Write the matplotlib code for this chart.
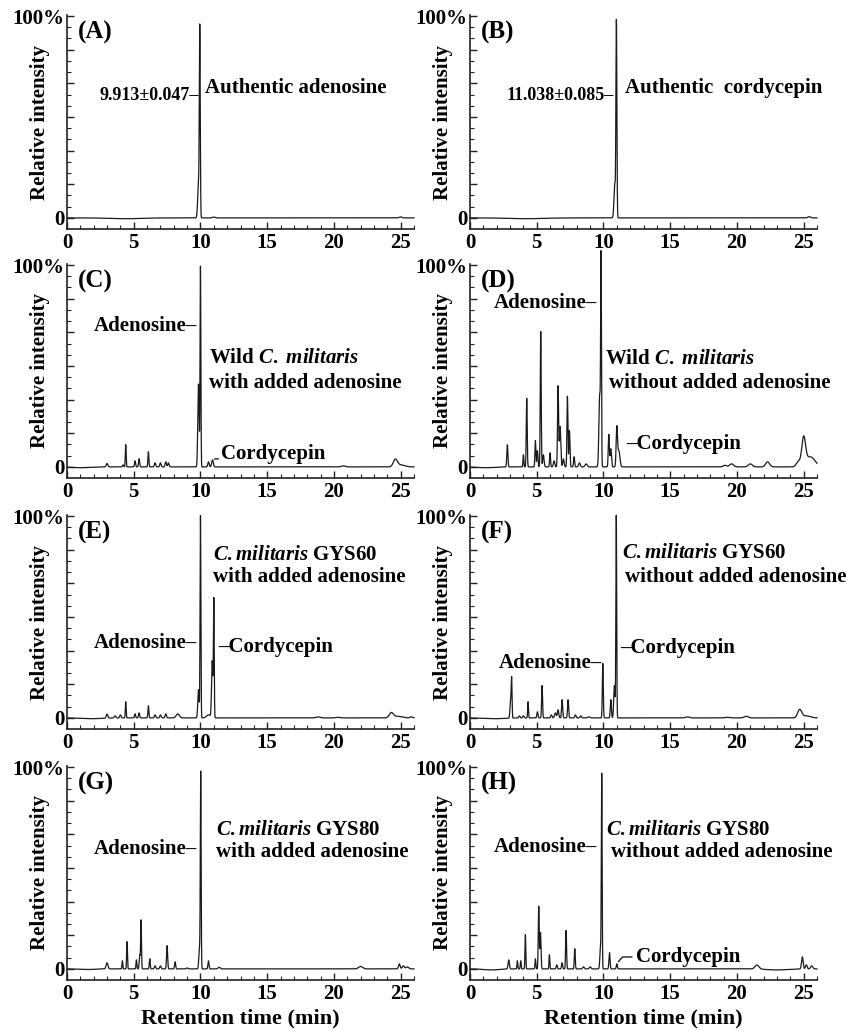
import numpy as np
import matplotlib
matplotlib.use("Agg")
import matplotlib.pyplot as plt

plt.rcParams['font.family'] = ['Liberation Serif', 'DejaVu Serif']
plt.rcParams['font.weight'] = 'bold'
plt.rcParams['mathtext.fontset'] = 'custom'
plt.rcParams['mathtext.rm'] = 'Liberation Serif:bold'
plt.rcParams['mathtext.it'] = 'Liberation Serif:bold:italic'
plt.rcParams['mathtext.bf'] = 'Liberation Serif:bold'

# ---- peak tables: (retention time min, height %, width min)
PEAKS_A = [(4.4, -0.4, 1.2), (9.85, 16, 0.06), (9.95, 92, 0.035), (11.0, 0.4, 0.1), (25.0, 0.5, 0.1)]
PEAKS_B = [(4.2, -0.4, 1.3), (10.85, 17, 0.06), (10.97, 96, 0.035), (25.4, 0.6, 0.1)]
PEAKS_C = [(1.0, -0.4, 0.6), (3.0, 1.7, 0.06), (4.2, 1.0, 0.04), (4.4, 11, 0.03), (5.1, 3, 0.04),
           (5.4, 4, 0.04), (6.1, 7.5, 0.035), (6.6, 2, 0.05), (7.0, 2, 0.05), (7.4, 2.5, 0.05),
           (7.6, 2, 0.05), (9.85, 41, 0.05), (10.0, 99, 0.03), (10.6, 2.5, 0.05), (10.9, 3.5, 0.06),
           (20.7, 0.5, 0.15), (24.6, 3.5, 0.15), (25.0, 1, 0.3)]
PEAKS_D = [(1.2, -0.4, 0.7), (2.8, 11, 0.04), (4.0, 6, 0.03), (4.25, 34, 0.035), (4.9, 13, 0.035),
           (5.05, 8, 0.04), (5.3, 67, 0.035), (5.5, 6, 0.05), (6.0, 7, 0.035), (6.3, 3, 0.05),
           (6.6, 40, 0.04), (6.75, 20, 0.05), (7.0, 4, 0.05), (7.3, 35, 0.035), (7.45, 18, 0.04),
           (7.8, 5, 0.04), (8.2, 2, 0.06), (8.7, 1.5, 0.08), (9.72, 36, 0.06), (9.82, 98, 0.03),
           (10.4, 16, 0.04), (10.55, 9, 0.05), (11.0, 19, 0.05), (11.15, 8, 0.08), (19.1, 0.8, 0.12),
           (19.6, 1.5, 0.15), (21.0, 1.5, 0.15), (22.3, 2.5, 0.15), (24.6, 2.5, 0.15),
           (25.0, 13.5, 0.14), (25.5, 5, 0.35)]
PEAKS_E = [(1.8, -0.4, 0.8), (3.0, 2, 0.06), (3.6, 1, 0.06), (4.0, 1.5, 0.05), (4.4, 8, 0.03),
           (5.1, 2, 0.04), (5.4, 2.5, 0.04), (6.1, 6, 0.035), (6.6, 1.5, 0.05), (7.0, 1.5, 0.05),
           (7.4, 2, 0.05), (8.3, 2, 0.12), (9.85, 14, 0.05), (10.0, 100, 0.03), (10.6, 1.5, 0.15),
           (10.88, 28, 0.05), (11.0, 58, 0.03), (18.8, 0.5, 0.15), (20.3, 0.3, 0.15),
           (24.3, 2.5, 0.15), (24.8, 0.8, 0.3), (25.8, 0.5, 0.1)]
PEAKS_F = [(1.8, -0.4, 0.8), (3.05, 9, 0.05), (3.12, 17, 0.03), (3.7, 1, 0.05), (4.0, 1, 0.05),
           (4.35, 8, 0.03), (5.05, 3, 0.04), (5.4, 16, 0.035), (6.1, 1.5, 0.05), (6.4, 2.5, 0.06),
           (6.6, 4, 0.05), (6.9, 9, 0.04), (7.35, 9, 0.04), (7.9, 1.5, 0.05), (8.3, 1, 0.05),
           (8.9, 0.5, 0.08), (9.95, 27, 0.035), (10.55, 9, 0.04), (10.82, 16, 0.05),
           (10.96, 100, 0.03), (16.3, 0.5, 0.15), (19.3, 0.3, 0.15), (20.7, 0.8, 0.15),
           (24.7, 4, 0.15), (25.2, 1, 0.3)]
PEAKS_G = [(1.5, -0.3, 0.6), (3.0, 3, 0.07), (4.15, 4, 0.03), (4.5, 13.5, 0.03), (5.2, 4.5, 0.03),
           (5.45, 7, 0.04), (5.55, 24, 0.03), (6.2, 5, 0.035), (6.6, 1.5, 0.05), (7.0, 1.5, 0.05),
           (7.5, 11.5, 0.04), (8.1, 3.5, 0.04), (9.0, 0.5, 0.06), (9.93, 10, 0.05), (10.02, 96, 0.03),
           (10.6, 4, 0.04), (11.4, 0.8, 0.08), (22.0, 1.2, 0.15), (24.9, 2.5, 0.06),
           (25.2, 1.5, 0.08), (25.5, 1, 0.1)]
PEAKS_H = [(1.6, -0.5, 0.6), (23.0, -0.5, 0.8), (2.9, 4.5, 0.05), (3.55, 4, 0.03), (3.8, 4, 0.03),
           (4.15, 17, 0.03), (4.9, 5, 0.03), (5.15, 31, 0.035), (5.28, 18, 0.04), (5.95, 7, 0.03),
           (6.5, 2, 0.04), (6.9, 3, 0.04), (7.2, 19, 0.035), (7.85, 10, 0.035), (8.5, 1, 0.06),
           (9.0, 1, 0.06), (9.78, 10, 0.05), (9.87, 95, 0.03), (10.45, 8, 0.04), (11.0, 2.5, 0.04),
           (21.5, 2, 0.15), (24.9, 6, 0.06), (25.2, 2, 0.06), (25.6, 1.5, 0.08)]

PANEL_LETTERS = ['(A)', '(B)', '(C)', '(D)', '(E)', '(F)', '(G)', '(H)']
X_TICKS = [0, 5, 10, 15, 20, 25]
Y_TICK_LABELS = {0: '0', 100: '100%'}

W, H = 858, 1031
fig = plt.figure(figsize=(W / 100, H / 100), dpi=100)

col_left = [67, 470]
row_bottom = [229, 478, 729, 980]
ax_w, ax_h = 347, 214

t = np.arange(0, 26.0001, 0.004)

def trace(peaks):
    y = np.zeros_like(t)
    for rt, h, w in peaks:
        y += h * np.exp(-0.5 * ((t - rt) / w) ** 2)
    return y

all_peaks = [PEAKS_A, PEAKS_B, PEAKS_C, PEAKS_D, PEAKS_E, PEAKS_F, PEAKS_G, PEAKS_H]
axes = []
for i, peaks in enumerate(all_peaks):
    r, c = divmod(i, 2)
    l = col_left[c]
    b = row_bottom[r]
    ax = fig.add_axes([l / W, (H - b) / H, ax_w / W, ax_h / H])
    axes.append(ax)
    ax.plot(t, trace(peaks), color='#1a1a1a', lw=0.9, clip_on=False)
    ax.set_xlim(0, 26)
    ax.set_ylim(-5.5, 100.5)
    for s in ['top', 'right']:
        ax.spines[s].set_visible(False)
    for s in ['left', 'bottom']:
        ax.spines[s].set_linewidth(1.2)
        ax.spines[s].set_color('#222222')
    ax.set_xticks(X_TICKS)
    ax.set_xticks(np.arange(0, 27, 1), minor=True)
    yt = [k * 100 / 6 for k in range(7)]
    ax.set_yticks(yt)
    ax.set_yticklabels([Y_TICK_LABELS.get(int(round(v)), '') for v in yt])
    ax.set_yticks([k * 100 / 18 for k in range(19)], minor=True)
    ax.tick_params(axis='both', which='major', direction='in', length=5, width=1,
                   labelsize=15, pad=3, color='#222222')
    ax.tick_params(axis='both', which='minor', direction='in', length=3, width=0.8, color='#222222')
    ax.tick_params(axis='y', which='major', pad=2)
    for lab in ax.get_xticklabels() + ax.get_yticklabels():
        lab.set_fontweight('bold')
    ax.set_ylabel('Relative intensity', fontsize=15, fontweight='bold')
    ax.yaxis.set_label_coords(-0.05, 0.5)
    ax.text(0.8, 92, PANEL_LETTERS[i], fontsize=18, fontweight='bold', ha='left', va='center')
    if r == 3:
        ax.set_xlabel('Retention time (min)', fontsize=16, fontweight='bold', labelpad=3)

fs = 15
A, B, C, D, E, F, G, Hx = axes
A.text(9.89, 60.8, '9.913\u00b10.047\u2013', fontsize=13, ha='right', va='center')
A.text(10.35, 64.3, 'Authentic adenosine', fontsize=fs, ha='left', va='center')
B.text(10.8, 60.8, '11.038\u00b10.085\u2013', fontsize=13, ha='right', va='center')
B.text(11.6, 64.3, 'Authentic  cordycepin', fontsize=fs, ha='left', va='center')

C.text(9.74, 69.7, 'Adenosine\u2013', fontsize=fs, ha='right', va='center')
C.text(10.64, 53.9, r'Wild $\mathit{C.}$ $\mathit{militaris}$', fontsize=fs, ha='left', va='center')
C.text(10.64, 41.5, 'with added adenosine', fontsize=fs, ha='left', va='center')
C.annotate('Cordycepin', xy=(10.95, 3.8), xytext=(11.55, 6.4), fontsize=fs, ha='left', va='center',
           arrowprops=dict(arrowstyle='-', lw=1, shrinkA=0, shrinkB=1, color='#222222'))

D.text(9.51, 81.1, 'Adenosine\u2013', fontsize=fs, ha='right', va='center')
D.text(10.11, 53.4, r'Wild $\mathit{C.}$ $\mathit{militaris}$', fontsize=fs, ha='left', va='center')
D.text(10.41, 41.5, 'without added adenosine', fontsize=fs, ha='left', va='center')
D.text(11.69, 11.3, '\u2013Cordycepin', fontsize=fs, ha='left', va='center')

E.text(10.94, 80.6, r'$\mathit{C{.}militaris}$ GYS60', fontsize=fs, ha='left', va='center')
E.text(10.94, 69.7, 'with added adenosine', fontsize=fs, ha='left', va='center')
E.text(9.74, 37.1, 'Adenosine\u2013', fontsize=fs, ha='right', va='center')
E.text(11.31, 35.1, '\u2013Cordycepin', fontsize=fs, ha='left', va='center')

F.text(11.39, 81.6, r'$\mathit{C{.}militaris}$ GYS60', fontsize=fs, ha='left', va='center')
F.text(11.61, 69.7, 'without added adenosine', fontsize=fs, ha='left', va='center')
F.text(9.89, 27.2, 'Adenosine\u2013', fontsize=fs, ha='right', va='center')
F.text(11.24, 34.6, '\u2013Cordycepin', fontsize=fs, ha='left', va='center')

G.text(11.16, 68.8, r'$\mathit{C{.}militaris}$ GYS80', fontsize=fs, ha='left', va='center')
G.text(11.16, 57.9, 'with added adenosine', fontsize=fs, ha='left', va='center')
G.text(9.74, 59.4, 'Adenosine\u2013', fontsize=fs, ha='right', va='center')

Hx.text(10.19, 68.8, r'$\mathit{C{.}militaris}$ GYS80', fontsize=fs, ha='left', va='center')
Hx.text(10.56, 57.9, 'without added adenosine', fontsize=fs, ha='left', va='center')
Hx.text(9.51, 60.3, 'Adenosine\u2013', fontsize=fs, ha='right', va='center')
Hx.annotate('Cordycepin', xy=(11.05, 3.0), xytext=(12.45, 5.9), fontsize=fs, ha='left', va='center',
            arrowprops=dict(arrowstyle='-', lw=1, shrinkA=1, shrinkB=1, color='#222222',
                            connectionstyle='angle,angleA=0,angleB=50,rad=0'))

fig.savefig('out.png', dpi=100, facecolor='white')
